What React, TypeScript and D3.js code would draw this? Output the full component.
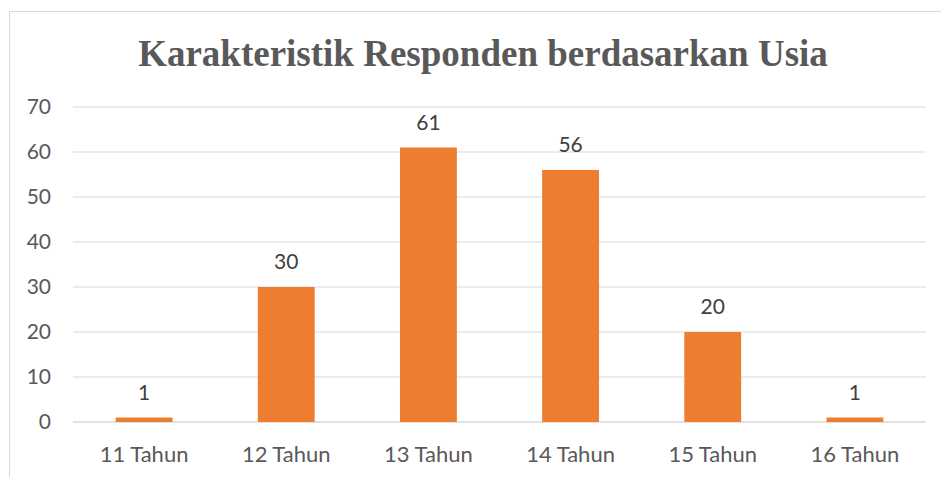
import React from "react";
import * as d3 from "d3";

// data
const categories = ["11 Tahun", "12 Tahun", "13 Tahun", "14 Tahun", "15 Tahun", "16 Tahun"];
const values = [1, 30, 61, 56, 20, 1];
const yTicks = [0, 10, 20, 30, 40, 50, 60, 70];
const title = "Karakteristik Responden berdasarkan Usia";

const dims = {
    width: 941,
    height: 477,
    plot: { left: 73, right: 926, top: 107, bottom: 422 }
};

const labelFont = "Lato, 'Open Sans', 'Liberation Sans', sans-serif";

export default function App() {
    const x = d3
        .scaleBand<string>()
        .domain(categories)
        .range([dims.plot.left, dims.plot.right])
        .paddingInner(0.6)
        .paddingOuter(0.3);
    const y = d3
        .scaleLinear()
        .domain([0, 70])
        .range([dims.plot.bottom, dims.plot.top]);

    return (
        <svg
            width={dims.width}
            height={dims.height}
            style={{ position: "absolute", left: 0, top: 0, display: "block" }}
        >
            <rect x={0} y={0} width={dims.width} height={dims.height} fill="#ffffff" />
            {/* chart border, right/bottom edges fall outside the view */}
            <rect
                x={9.5}
                y={11.5}
                width={dims.width + 10}
                height={dims.height + 10}
                fill="none"
                stroke="#d9d9d9"
                strokeWidth={1}
            />
            <text
                x={483}
                y={66}
                textAnchor="middle"
                fontFamily="'Liberation Serif', 'Times New Roman', serif"
                fontWeight="bold"
                fontSize={37}
                fill="#595959"
            >
                {title}
            </text>
            {yTicks.map(t => (
                <g key={t}>
                    <line
                        x1={dims.plot.left}
                        x2={dims.plot.right}
                        y1={y(t)}
                        y2={y(t)}
                        stroke="#d9d9d9"
                        strokeWidth={t === 0 ? 1.5 : 1.2}
                    />
                    <text
                        x={51}
                        y={y(t)}
                        dy="0.35em"
                        textAnchor="end"
                        fontFamily={labelFont}
                        fontSize={21}
                        fill="#595959"
                    >
                        {t}
                    </text>
                </g>
            ))}
            {categories.map((c, i) => (
                <g key={c}>
                    <rect
                        x={x(c)}
                        y={y(values[i])}
                        width={x.bandwidth()}
                        height={y(0) - y(values[i])}
                        fill="#ed7d31"
                    />
                    <text
                        x={(x(c) ?? 0) + x.bandwidth() / 2}
                        y={y(values[i]) - 18}
                        textAnchor="middle"
                        fontFamily={labelFont}
                        fontSize={21}
                        fill="#404040"
                    >
                        {values[i]}
                    </text>
                    <text
                        x={(x(c) ?? 0) + x.bandwidth() / 2}
                        y={462}
                        textAnchor="middle"
                        fontFamily={labelFont}
                        fontSize={22}
                        fill="#595959"
                    >
                        {c}
                    </text>
                </g>
            ))}
        </svg>
    );
}
